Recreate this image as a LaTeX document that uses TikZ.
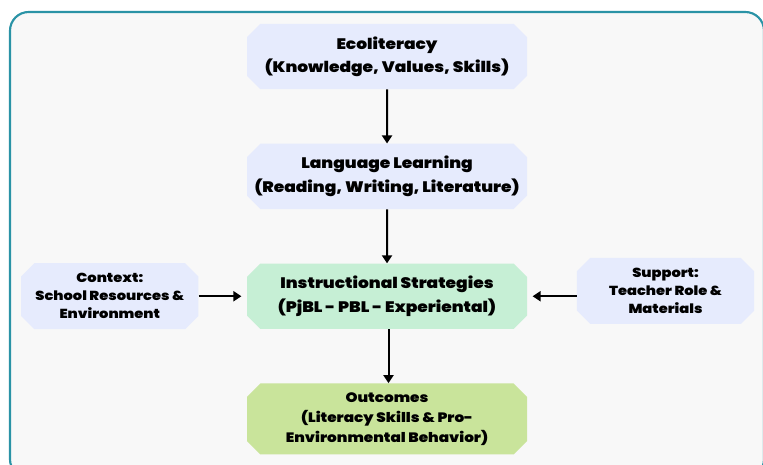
\documentclass[tikz,border=0pt]{standalone}
\usepackage{fontspec}
\setmainfont{Poppins}[BoldFont={Poppins Black}, BoldFeatures={FakeStretch=1.12}]
\usetikzlibrary{arrows.meta, positioning, shapes.misc}

\definecolor{framefill}{HTML}{F8F8F8}
\definecolor{frameline}{HTML}{2A93A6}
\definecolor{lavender}{HTML}{E6EBFD}
\definecolor{mint}{HTML}{C6EFD5}
\definecolor{lime}{HTML}{C9E49B}

\begin{document}
\begin{tikzpicture}[
    x=0.75pt, y=-0.75pt,
    node distance=40.5pt,
    every node/.style={font=\bfseries},
    box/.style={chamfered rectangle, chamfered rectangle xsep=5pt, chamfered rectangle ysep=5pt,
        minimum width=210pt, minimum height=49pt, align=center, inner xsep=0.5pt, inner ysep=2pt,
        font=\fontsize{11.4}{17.5}\selectfont\bfseries},
    sidebox/.style={box, minimum width=133pt, minimum height=49.5pt, fill=lavender,
        font=\fontsize{9.8}{13.5}\selectfont\bfseries},
    arrow/.style={-{Triangle[length=6pt, width=7.5pt]}, line width=1.5pt}
]
    \useasboundingbox (0,0) rectangle (763,464);
    % outer panel
    \draw[frameline, fill=framefill, line width=1.6pt, rounded corners=14pt] (10,12) rectangle (764,478);

    \node[box, fill=lavender] (eco) at (387,56.5) {Ecoliteracy\\(Knowledge, Values, Skills)};
    \node[box, fill=lavender, below=of eco] (lang) {Language Learning\\(Reading, Writing, Literature)};
    \node[box, fill=mint, below=of lang] (instr) {Instructional Strategies\\(PjBL - PBL - Experiental)};
    \node[box, fill=lime, below=of instr, font=\fontsize{10.2}{14.8}\selectfont\bfseries] (out)
        {Outcomes\\(Literacy Skills \& Pro-\\Environmental Behavior)};
    \node[sidebox, left=36pt of instr] (ctx) {Context:\\School Resources \&\\Environment};
    \node[sidebox, right=37pt of instr, yshift=4pt] (sup) {Support:\\Teacher Role \&\\Materials};

    \draw[arrow] (eco) -- (lang);
    \draw[arrow] (lang) -- (instr);
    \draw[arrow] (instr.south) ++(1.5,0) coordinate (instrout) -- (instrout |- out.north);
    \draw[arrow, shorten >=4pt] (ctx.east) -- (ctx.east -| instr.west);
    \draw[arrow, shorten >=4pt] (sup.west |- instr.center) -- (instr.east);
\end{tikzpicture}
\end{document}
